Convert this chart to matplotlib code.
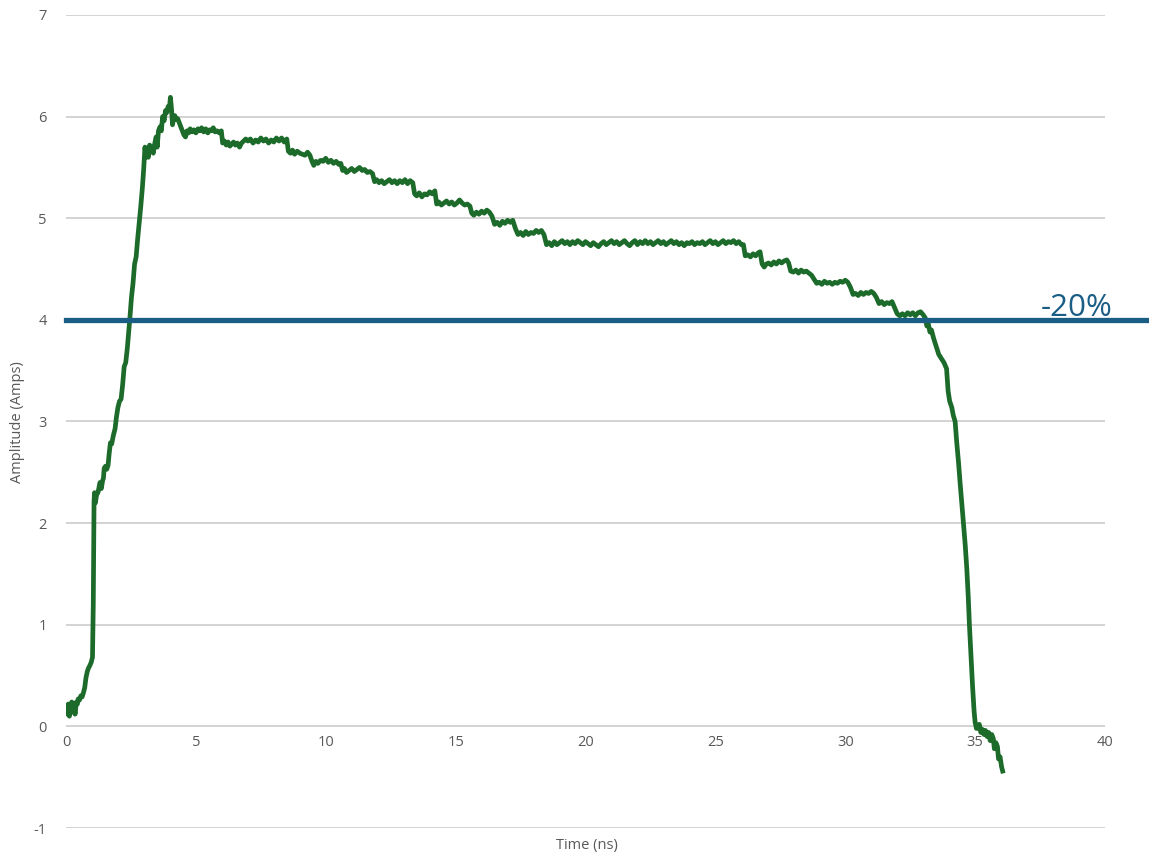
import matplotlib
matplotlib.use("Agg")
import matplotlib.pyplot as plt

plt.rcParams['font.family'] = ['Open Sans', 'DejaVu Sans']
plt.rcParams['axes.unicode_minus'] = False

time_ns = [
    0.00, 0.05, 0.09, 0.13, 0.17, 0.22, 0.26, 0.30, 0.35, 0.40, 0.44, 0.47, 0.52, 0.57, 0.62, 0.67,
    0.72, 0.77, 0.82, 0.86, 0.92, 0.97, 1.02, 1.05,
    1.08, 1.10, 1.13, 1.18, 1.23, 1.28, 1.31, 1.36, 1.41, 1.44, 1.47, 1.52, 1.57, 1.62, 1.66, 1.71,
    1.76, 1.82, 1.89, 1.94, 2.00, 2.06, 2.12, 2.18, 2.24, 2.30, 2.36, 2.40, 2.46, 2.52, 2.58, 2.64,
    2.70, 2.76, 2.82, 2.88, 2.94, 2.99, 3.04, 3.08, 3.12, 3.17, 3.22, 3.27, 3.32, 3.36, 3.42, 3.47,
    3.51, 3.56, 3.62, 3.67, 3.72, 3.78, 3.83, 3.88, 3.93, 3.98, 4.02, 4.06, 4.10, 4.14, 4.19, 4.24,
    4.30, 4.36, 4.42, 4.48, 4.54, 4.60, 4.66, 4.72, 4.78, 4.85, 4.92, 5.00, 5.08, 5.15, 5.22, 5.30,
    5.38, 5.46, 5.53, 5.60, 5.67, 5.74, 5.82, 5.90, 5.98, 6.03, 6.10, 6.17, 6.24, 6.31, 6.38, 6.45,
    6.52, 6.60, 6.68, 6.76, 6.84, 6.92, 7.00, 7.10, 7.20, 7.30, 7.40, 7.50, 7.60, 7.70, 7.80, 7.90,
    8.00, 8.10, 8.20, 8.30, 8.40, 8.50, 8.56, 8.64, 8.72, 8.80, 8.90, 9.00, 9.10, 9.20, 9.30, 9.39,
    9.47, 9.54, 9.62, 9.70, 9.80, 9.90, 10.00, 10.10, 10.20, 10.30, 10.40, 10.50, 10.58, 10.65, 10.72, 10.80,
    10.90, 11.00, 11.10, 11.20, 11.30, 11.40, 11.50, 11.60, 11.70, 11.80, 11.88, 11.96, 12.05, 12.15, 12.25, 12.35,
    12.45, 12.55, 12.65, 12.75, 12.85, 12.95, 13.05, 13.15, 13.25, 13.35, 13.42, 13.50, 13.60, 13.70, 13.80, 13.90,
    14.00, 14.10, 14.20, 14.27, 14.35, 14.45, 14.55, 14.65, 14.75, 14.85, 14.95, 15.05, 15.15, 15.25, 15.35, 15.45,
    15.55, 15.62, 15.70, 15.80, 15.90, 16.00, 16.10, 16.20, 16.30, 16.40, 16.50, 16.60, 16.70, 16.80, 16.90, 17.00,
    17.10, 17.20, 17.30, 17.40, 17.50, 17.60, 17.70, 17.80, 17.90, 18.00, 18.10, 18.20, 18.30, 18.40, 18.50, 18.60,
    18.70, 18.80, 18.90, 19.00, 19.10, 19.20, 19.30, 19.40, 19.50, 19.60, 19.70, 19.80, 19.90, 20.00, 20.10, 20.20,
    20.30, 20.40, 20.50, 20.60, 20.70, 20.80, 20.90, 21.00, 21.10, 21.20, 21.30, 21.40, 21.50, 21.60, 21.70, 21.80,
    21.90, 22.00, 22.10, 22.20, 22.30, 22.40, 22.50, 22.60, 22.70, 22.80, 22.90, 23.00, 23.10, 23.20, 23.30, 23.40,
    23.50, 23.60, 23.70, 23.80, 23.90, 24.00, 24.10, 24.20, 24.30, 24.40, 24.50, 24.60, 24.70, 24.80, 24.90, 25.00,
    25.10, 25.20, 25.30, 25.40, 25.50, 25.60, 25.70, 25.80, 25.90, 26.00, 26.08, 26.15, 26.25, 26.35, 26.45, 26.55,
    26.65, 26.72, 26.80, 26.88, 26.96, 27.05, 27.15, 27.25, 27.35, 27.45, 27.55, 27.65, 27.75, 27.82, 27.90, 28.00,
    28.10, 28.20, 28.30, 28.40, 28.50, 28.60, 28.70, 28.80, 28.90, 29.00, 29.10, 29.20, 29.30, 29.40, 29.50, 29.60,
    29.70, 29.80, 29.90, 30.00, 30.10, 30.20, 30.30, 30.40, 30.50, 30.60, 30.70, 30.80, 30.90, 31.00, 31.10, 31.20,
    31.30, 31.40, 31.50, 31.60, 31.70, 31.80, 31.90, 32.00, 32.10, 32.20, 32.30, 32.40, 32.50, 32.60, 32.70, 32.80,
    32.90, 33.00, 33.08, 33.14, 33.20, 33.26, 33.32, 33.40, 33.50, 33.60, 33.70, 33.80, 33.90, 33.96, 34.02, 34.10,
    34.16, 34.23, 34.29, 34.36, 34.42, 34.48, 34.55, 34.62, 34.68, 34.74, 34.78, 34.84, 34.90, 34.96, 35.00, 35.05,
    35.10, 35.16, 35.22, 35.28, 35.34, 35.40, 35.46, 35.52, 35.58, 35.64, 35.70, 35.74, 35.80, 35.86, 35.90, 35.96,
    36.02, 36.06,
]

amplitude = [
    0.20, 0.12, 0.22, 0.10, 0.18, 0.24, 0.14, 0.22, 0.12, 0.24, 0.22, 0.27, 0.26, 0.30, 0.29, 0.33,
    0.38, 0.48, 0.54, 0.57, 0.60, 0.63, 0.68, 1.20,
    2.22, 2.30, 2.20, 2.28, 2.30, 2.36, 2.40, 2.34, 2.42, 2.44, 2.54, 2.56, 2.53, 2.57, 2.68, 2.79,
    2.78, 2.86, 2.93, 3.04, 3.14, 3.20, 3.22, 3.36, 3.54, 3.58, 3.72, 3.84, 4.02, 4.22, 4.36, 4.55,
    4.62, 4.80, 4.96, 5.12, 5.30, 5.48, 5.70, 5.60, 5.66, 5.60, 5.72, 5.66, 5.70, 5.64, 5.74, 5.80,
    5.70, 5.86, 5.90, 5.86, 6.00, 5.96, 6.06, 6.04, 6.10, 6.08, 6.19, 6.08, 5.92, 5.98, 6.01, 5.97,
    5.98, 5.94, 5.90, 5.86, 5.82, 5.80, 5.86, 5.84, 5.88, 5.85, 5.87, 5.84, 5.88, 5.86, 5.89, 5.85,
    5.88, 5.84, 5.87, 5.86, 5.89, 5.85, 5.86, 5.84, 5.86, 5.74, 5.76, 5.72, 5.75, 5.71, 5.73, 5.75,
    5.72, 5.74, 5.70, 5.74, 5.76, 5.78, 5.76, 5.78, 5.74, 5.77, 5.75, 5.79, 5.76, 5.78, 5.74, 5.77,
    5.75, 5.79, 5.76, 5.79, 5.75, 5.78, 5.66, 5.64, 5.67, 5.63, 5.66, 5.64, 5.63, 5.62, 5.65, 5.62,
    5.56, 5.52, 5.56, 5.54, 5.57, 5.56, 5.59, 5.55, 5.57, 5.54, 5.56, 5.53, 5.54, 5.47, 5.49, 5.45,
    5.47, 5.49, 5.46, 5.48, 5.50, 5.47, 5.48, 5.45, 5.46, 5.44, 5.36, 5.38, 5.35, 5.37, 5.34, 5.36,
    5.38, 5.35, 5.37, 5.34, 5.37, 5.35, 5.38, 5.34, 5.37, 5.35, 5.24, 5.22, 5.25, 5.21, 5.24, 5.23,
    5.26, 5.24, 5.27, 5.14, 5.16, 5.13, 5.15, 5.17, 5.14, 5.16, 5.13, 5.15, 5.18, 5.15, 5.13, 5.14,
    5.12, 5.05, 5.03, 5.06, 5.04, 5.07, 5.05, 5.08, 5.06, 5.02, 4.94, 4.96, 4.93, 4.97, 4.95, 4.98,
    4.96, 4.98, 4.90, 4.84, 4.86, 4.83, 4.87, 4.84, 4.86, 4.85, 4.88, 4.86, 4.88, 4.84, 4.74, 4.76,
    4.73, 4.77, 4.74, 4.76, 4.78, 4.75, 4.77, 4.74, 4.77, 4.75, 4.78, 4.76, 4.74, 4.77, 4.75, 4.73,
    4.76, 4.74, 4.72, 4.75, 4.77, 4.74, 4.76, 4.78, 4.75, 4.77, 4.74, 4.76, 4.78, 4.75, 4.73, 4.76,
    4.78, 4.74, 4.77, 4.75, 4.78, 4.75, 4.77, 4.74, 4.76, 4.78, 4.75, 4.77, 4.74, 4.76, 4.78, 4.75,
    4.77, 4.74, 4.76, 4.73, 4.76, 4.75, 4.77, 4.74, 4.76, 4.75, 4.77, 4.74, 4.76, 4.78, 4.75, 4.77,
    4.74, 4.76, 4.78, 4.75, 4.77, 4.76, 4.78, 4.75, 4.77, 4.74, 4.74, 4.63, 4.64, 4.62, 4.65, 4.63,
    4.66, 4.67, 4.55, 4.52, 4.55, 4.56, 4.54, 4.57, 4.55, 4.58, 4.56, 4.58, 4.59, 4.56, 4.48, 4.47,
    4.49, 4.46, 4.49, 4.47, 4.48, 4.46, 4.44, 4.40, 4.36, 4.37, 4.35, 4.38, 4.36, 4.37, 4.35, 4.37,
    4.36, 4.38, 4.37, 4.39, 4.37, 4.32, 4.25, 4.26, 4.24, 4.27, 4.25, 4.27, 4.26, 4.28, 4.26, 4.22,
    4.16, 4.18, 4.15, 4.17, 4.16, 4.18, 4.12, 4.06, 4.04, 4.06, 4.04, 4.07, 4.05, 4.07, 4.04, 4.07,
    4.08, 4.05, 4.02, 3.94, 3.96, 3.88, 3.90, 3.82, 3.74, 3.66, 3.62, 3.58, 3.52, 3.30, 3.20, 3.14,
    3.06, 3.00, 2.80, 2.60, 2.40, 2.22, 2.00, 1.78, 1.55, 1.25, 1.00, 0.70, 0.40, 0.15, 0.04, -0.02,
    -0.02, 0.02, -0.06, -0.03, -0.08, -0.04, -0.10, -0.06, -0.14, -0.08, -0.12, -0.22, -0.16, -0.20, -0.32, -0.30,
    -0.40, -0.44,
]

x_ticks = [0, 5, 10, 15, 20, 25, 30, 35, 40]
y_ticks = [-1, 0, 1, 2, 3, 4, 5, 6, 7]
threshold = 4
threshold_label = "-20%"

W, H = 1149, 855
fig = plt.figure(figsize=(W / 100, H / 100), dpi=100)
ax = fig.add_axes([66 / W, 1 - 828 / H, (1105 - 66) / W, (828 - 15) / H])

text_color = '#595959'
grid_color = '#d0d0d0'

ax.set_xlim(0, 40)
ax.set_ylim(-1, 7)
ax.set_yticks(y_ticks)
ax.set_xticks(x_ticks)
ax.grid(axis='y', color=grid_color, linewidth=1.3)
ax.set_axisbelow(True)
for s in ['top', 'right', 'left']:
    ax.spines[s].set_visible(False)
ax.spines['bottom'].set_position(('data', 0))
ax.spines['bottom'].set_color('none')
ax.tick_params(axis='both', length=0, colors=text_color, labelsize=10.5)
ax.tick_params(axis='y', pad=14)
ax.tick_params(axis='x', pad=6)

ax.plot(time_ns, amplitude, color='#1c6b2a', linewidth=3.4, solid_joinstyle='round', zorder=3)

ax.axhline(threshold, xmin=0, xmax=(W - 66) / (1105 - 66), color='#1a5e85',
           linewidth=3.8, clip_on=False, zorder=4)
ax.text((1077 - 66) / (1105 - 66) * 40, threshold + 0.04, threshold_label,
        color='#1a5e85', fontsize=22.5, ha='center', va='baseline', clip_on=False)

fig.text(587 / W, 1 - 845 / H, 'Time (ns)', color=text_color, fontsize=10.5, ha='center', va='center')
fig.text(18 / W, 1 - 422 / H, 'Amplitude (Amps)', color=text_color, fontsize=10.5,
         ha='center', va='center', rotation=90)

fig.savefig('out.png', dpi=100)
